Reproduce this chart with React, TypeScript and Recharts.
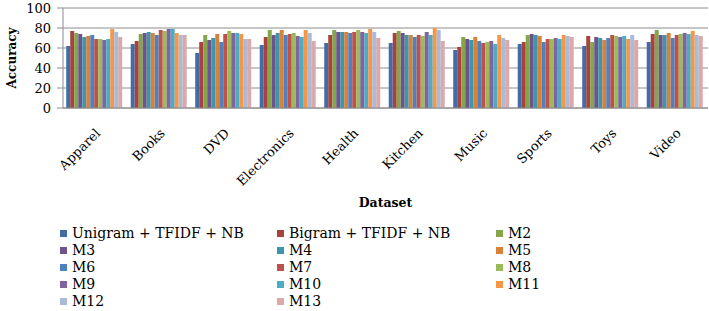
import React from 'react';
import { BarChart, Bar, XAxis, YAxis, CartesianGrid, Label } from 'recharts';

const categories = ['Apparel', 'Books', 'DVD', 'Electronics', 'Health', 'Kitchen', 'Music', 'Sports', 'Toys', 'Video'];

const unigram = [62, 64, 55, 63, 65, 65, 58, 64, 62, 66];
const bigram = [77, 67, 66, 71, 73, 75, 61, 66, 72, 74];
const m2 = [75, 74, 73, 78, 78, 77, 71, 73, 66, 78];
const m3 = [74, 75, 68, 73, 76, 75, 69, 74, 71, 73];
const m4 = [71, 76, 70, 75, 76, 73, 68, 73, 70, 73];
const m5 = [72, 75, 74, 78, 76, 73, 71, 72, 68, 75];
const m6 = [73, 73, 66, 73, 75, 71, 67, 66, 70, 70];
const m7 = [69, 78, 74, 74, 76, 73, 65, 69, 73, 73];
const m8 = [69, 77, 77, 75, 78, 72, 66, 69, 72, 74];
const m9 = [68, 79, 75, 72, 76, 76, 67, 70, 71, 75];
const m10 = [69, 79, 75, 71, 75, 73, 64, 69, 72, 74];
const m11 = [79, 75, 74, 78, 79, 80, 73, 73, 69, 77];
const m12 = [76, 73, 69, 75, 76, 78, 70, 72, 73, 73];
const m13 = [71, 73, 69, 67, 70, 67, 68, 71, 68, 72];

const seriesNames = ['Unigram + TFIDF + NB', 'Bigram + TFIDF + NB', 'M2', 'M3', 'M4', 'M5', 'M6', 'M7', 'M8', 'M9', 'M10', 'M11', 'M12', 'M13'];
const seriesValues = [unigram, bigram, m2, m3, m4, m5, m6, m7, m8, m9, m10, m11, m12, m13];
const seriesColors = ['#416CA7', '#A8423F', '#86A44A', '#6E548D', '#3D96AE', '#DA8137', '#4F81BD', '#C0504D', '#9BBB59', '#8064A2', '#4BACC6', '#F79646', '#A9BBD9', '#DAA9A8'];
const yTicks = [0, 20, 40, 60, 80, 100];
const boundaryTicks = [0, 1, 2, 3, 4, 5, 6, 7, 8, 9, 10];

const data = categories.map((c, i) => {
  const row: Record<string, string | number> = { name: c };
  seriesNames.forEach((s, j) => { row['s' + j] = seriesValues[j][i]; });
  return row;
});

const FONT = 'DejaVu Serif';
const AXIS = '#8c8c8c';

const XTick = (props: any) => {
  const { x, y, payload } = props;
  const ax = x + 6;
  const ay = y + 18;
  return (
    <text
      x={ax}
      y={ay}
      transform={`rotate(-45, ${ax}, ${ay})`}
      textAnchor="end"
      fontFamily={FONT}
      fontSize={13}
      fill="#000"
    >
      {payload.value}
    </text>
  );
};

export default function App() {
  return (
    <div style={{ position: 'absolute', left: 0, top: 0, width: 709, height: 311, background: '#fff' }}>
      <BarChart
        width={709}
        height={311}
        data={data}
        margin={{ top: 8, right: 1, bottom: 0, left: 0 }}
        barCategoryGap="5%"
        barGap={0}
      >
        <CartesianGrid vertical={false} stroke={AXIS} />
        <XAxis
          xAxisId="b"
          type="number"
          domain={[0, 10]}
          ticks={boundaryTicks}
          height={0}
          axisLine={false}
          tickLine={{ stroke: AXIS }}
          tickSize={6}
          tickFormatter={() => ''}
          allowDataOverflow
        />
        <XAxis
          dataKey="name"
          height={203}
          axisLine={{ stroke: AXIS }}
          tickLine={false}
          interval={0}
          tick={<XTick />}
        >
          <Label
            value="Dataset"
            position="insideTop"
            offset={90}
            fontFamily={FONT}
            fontSize={12.5}
            fontWeight="bold"
            fill="#000"
          />
        </XAxis>
        <YAxis
          width={63}
          domain={[0, 100]}
          ticks={yTicks}
          interval={0}
          axisLine={{ stroke: AXIS }}
          tickLine={{ stroke: AXIS }}
          tickSize={6}
          tickMargin={6}
          tick={{ fontFamily: FONT, fontSize: 13, fill: '#000' }}
        >
          <Label
            value="Accuracy"
            angle={-90}
            position="insideLeft"
            offset={12}
            fontFamily={FONT}
            fontSize={12}
            fontWeight="bold"
            fill="#000"
            style={{ textAnchor: 'middle' }}
          />
        </YAxis>
        {seriesNames.map((s, j) => (
          <Bar key={s} dataKey={'s' + j} name={s} fill={seriesColors[j]} isAnimationActive={false} />
        ))}
      </BarChart>
      <div style={{ position: 'absolute', left: 0, top: 0, width: 709, height: 311, pointerEvents: 'none' }}>
        {seriesNames.map((s, j) => {
          const col = j % 3;
          const row = Math.floor(j / 3);
          const left = [60, 277, 496][col];
          const top = 233 + row * 17;
          return (
            <div key={s} style={{ position: 'absolute', left, top: top - 8, height: 16, display: 'flex', alignItems: 'center', whiteSpace: 'nowrap' }}>
              <span style={{ display: 'inline-block', width: 7, height: 7, background: seriesColors[j], marginRight: 5 }} />
              <span style={{ fontFamily: FONT, fontSize: 14, color: '#000', lineHeight: '16px' }}>{s}</span>
            </div>
          );
        })}
      </div>
    </div>
  );
}
